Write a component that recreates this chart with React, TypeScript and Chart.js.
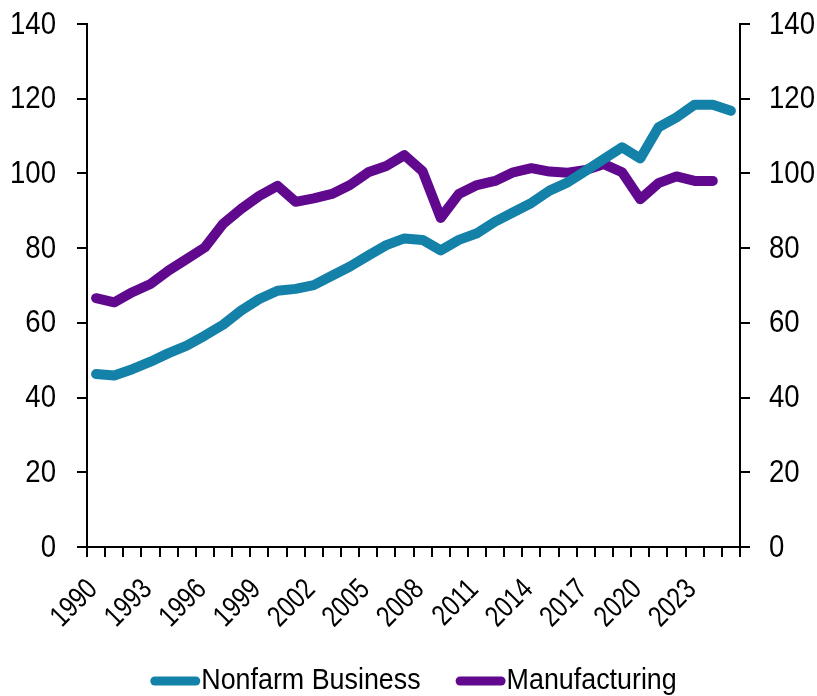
import React, { useEffect, useRef } from 'react';
import { Chart, registerables } from 'chart.js';

Chart.register(...registerables);

const years = [
  '1990', '1991', '1992', '1993', '1994', '1995', '1996', '1997', '1998', '1999',
  '2000', '2001', '2002', '2003', '2004', '2005', '2006', '2007', '2008', '2009',
  '2010', '2011', '2012', '2013', '2014', '2015', '2016', '2017', '2018', '2019',
  '2020', '2021', '2022', '2023', '2024', '2025',
];

const nonfarmBusiness = [
  46.3, 45.9, 47.6, 49.6, 51.9, 53.9, 56.6, 59.5, 63.3, 66.4,
  68.6, 69.1, 70.1, 72.6, 75.1, 78.0, 80.8, 82.6, 82.2, 79.4,
  82.2, 84.0, 87.1, 89.6, 92.1, 95.4, 97.6, 100.7, 103.9, 107.0,
  104.0, 112.3, 115.0, 118.4, 118.4, 116.8,
];

const manufacturing = [
  66.6, 65.5, 68.2, 70.4, 74.0, 77.1, 80.2, 86.5, 90.5, 94.0,
  96.7, 92.4, 93.3, 94.5, 96.9, 100.3, 102.0, 104.9, 100.6, 88.1,
  94.5, 96.9, 98.0, 100.3, 101.4, 100.5, 100.2, 100.9, 102.5, 100.3,
  93.1, 97.4, 99.2, 98.0, 98.0, null,
];

const seriesNames = ['Nonfarm Business', 'Manufacturing'];
const yTicks = [0, 20, 40, 60, 80, 100, 120, 140];
const xLabelEvery = 3;

const TEAL = 'rgb(19,129,168)';
const PURPLE = 'rgb(96,8,142)';
const FONT_FAMILY = '"Liberation Sans", Arial, sans-serif';
const Y_FONT_SIZE = 31;
const Y_SQUEEZE = 0.89;
const X_FONT_SIZE = 29.5;
const X_SQUEEZE = 0.8;
const LEGEND_FONT_SIZE = 29.5;
const LEGEND_SQUEEZE = 0.91;

// Draws condensed (Arial-Narrow-like) text for axis labels and the legend.
const narrowTextPlugin = {
  id: 'narrowText',
  afterDraw(chart: any) {
    const ctx = chart.ctx as CanvasRenderingContext2D;
    const yS = chart.scales.y;
    const y2S = chart.scales.y2;
    const xS = chart.scales.x;
    const area = chart.chartArea;
    ctx.save();
    ctx.fillStyle = '#000';
    ctx.font = `${Y_FONT_SIZE}px ${FONT_FAMILY}`;
    ctx.textBaseline = 'middle';

    // y axes
    yTicks.forEach((v) => {
      const py = yS.getPixelForValue(v);
      ctx.save();
      ctx.translate(area.left - 31, py + 1);
      ctx.scale(Y_SQUEEZE, 1);
      ctx.textAlign = 'right';
      ctx.fillText(String(v), 0, 0);
      ctx.restore();

      const py2 = y2S.getPixelForValue(v);
      ctx.save();
      ctx.translate(area.right + 29, py2 + 1);
      ctx.scale(Y_SQUEEZE, 1);
      ctx.textAlign = 'left';
      ctx.fillText(String(v), 0, 0);
      ctx.restore();
    });

    // x axis (rotated)
    ctx.font = `${X_FONT_SIZE}px ${FONT_FAMILY}`;
    years.forEach((label, i) => {
      if (i % xLabelEvery !== 0) return;
      const px = xS.getPixelForValue(i);
      ctx.save();
      ctx.translate(px - 3, area.bottom + 38);
      ctx.rotate(-Math.PI / 4);
      ctx.scale(X_SQUEEZE, 1);
      ctx.textAlign = 'right';
      ctx.fillText(label, 0, 0);
      ctx.restore();
    });

    // legend
    ctx.font = `${LEGEND_FONT_SIZE}px ${FONT_FAMILY}`;
    ctx.textAlign = 'left';
    ctx.textBaseline = 'alphabetic';
    const colors = [TEAL, PURPLE];
    const swatch = 50;
    const lw = 9;
    const gapText = 1;
    const gapItem = 35;
    const widths = seriesNames.map((n) => ctx.measureText(n).width * LEGEND_SQUEEZE);
    const total = widths.reduce((a, w) => a + swatch + gapText + w, 0) + gapItem * (seriesNames.length - 1);
    let x = (area.left + area.right) / 2 - total / 2;
    const lineY = 681;
    const baseY = 689;
    seriesNames.forEach((name, i) => {
      ctx.strokeStyle = colors[i];
      ctx.lineWidth = lw;
      ctx.lineCap = 'round';
      ctx.beginPath();
      ctx.moveTo(x + lw / 2, lineY);
      ctx.lineTo(x + swatch - lw / 2, lineY);
      ctx.stroke();
      x += swatch + gapText;
      ctx.save();
      ctx.translate(x, baseY);
      ctx.scale(LEGEND_SQUEEZE, 1);
      ctx.fillText(name, 0, 0);
      ctx.restore();
      x += widths[i] + gapItem;
    });
    ctx.restore();
  },
};

export default function App() {
  const ref = useRef<HTMLCanvasElement | null>(null);

  useEffect(() => {
    if (!ref.current) return;
    const axisGrid = {
      drawOnChartArea: false,
      drawTicks: true,
      tickLength: 10,
      color: '#000',
      lineWidth: 2,
    };
    const chart = new Chart(ref.current, {
      type: 'line',
      data: {
        labels: years,
        datasets: [
          {
            label: seriesNames[0],
            data: nonfarmBusiness,
            borderColor: TEAL,
            backgroundColor: TEAL,
            borderWidth: 10,
            pointRadius: 0,
            borderCapStyle: 'round',
            borderJoinStyle: 'round',
            tension: 0,
            yAxisID: 'y',
          },
          {
            label: seriesNames[1],
            data: manufacturing,
            borderColor: PURPLE,
            backgroundColor: PURPLE,
            borderWidth: 10,
            pointRadius: 0,
            borderCapStyle: 'round',
            borderJoinStyle: 'round',
            tension: 0,
            yAxisID: 'y',
          },
        ],
      },
      options: {
        animation: false,
        responsive: true,
        maintainAspectRatio: false,
        layout: { padding: { top: 24, left: 0, right: 0, bottom: 0 } },
        plugins: {
          tooltip: { enabled: false },
          legend: { display: false },
        },
        scales: {
          x: {
            type: 'category',
            offset: true,
            grid: { ...axisGrid, offset: true },
            border: { display: true, color: '#000', width: 2 },
            ticks: { display: false, autoSkip: false },
            afterFit: (s: any) => { s.height = 149; },
          },
          y: {
            position: 'left',
            min: 0,
            max: 140,
            afterBuildTicks: (s: any) => { s.ticks = yTicks.map((v) => ({ value: v })); },
            grid: axisGrid,
            border: { display: true, color: '#000', width: 2 },
            ticks: { display: false },
            afterFit: (s: any) => { s.width = 87; },
          },
          y2: {
            position: 'right',
            min: 0,
            max: 140,
            afterBuildTicks: (s: any) => { s.ticks = yTicks.map((v) => ({ value: v })); },
            grid: axisGrid,
            border: { display: true, color: '#000', width: 2 },
            ticks: { display: false },
            afterFit: (s: any) => { s.width = 77; },
          },
        },
      },
      plugins: [narrowTextPlugin],
    } as any);
    return () => chart.destroy();
  }, []);

  return (
    <div style={{ position: 'absolute', left: 0, top: 0, width: 817, height: 696, background: '#fff' }}>
      <canvas ref={ref} />
    </div>
  );
}
